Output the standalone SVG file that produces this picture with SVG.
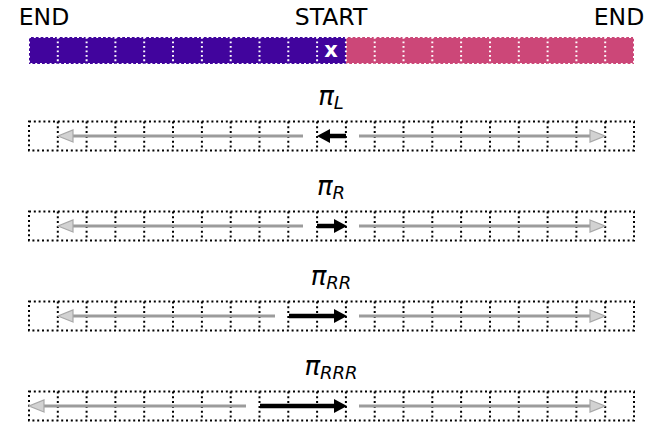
<svg xmlns="http://www.w3.org/2000/svg" width="663" height="440" viewBox="0 0 663 440">
<defs>
<style>
text{font-family:"DejaVu Sans","Liberation Sans",sans-serif;fill:#000}
.lbl{font-size:23.5px}
.pi{font-size:26px;font-style:italic}
.sub{font-size:18px}
.wd{stroke:#fff;stroke-width:2;stroke-dasharray:2 2.8;fill:none}
.bd{stroke:#000;stroke-width:2;stroke-dasharray:2 2.8;fill:none}
.grey{stroke:#9c9c9c;stroke-width:3;fill:none}
.blk{stroke:#000;stroke-width:4.5;fill:none}
</style>
<marker id="bh" viewBox="0 -7 13 14" markerWidth="13" markerHeight="14" refX="0" refY="0" markerUnits="userSpaceOnUse" orient="auto">
<path d="M0,-7 L13,0 L0,7 z" fill="#000"/>
</marker>
<marker id="gh" viewBox="-1 -7 17 14" markerWidth="17" markerHeight="14" refX="0" refY="0" markerUnits="userSpaceOnUse" orient="auto">
<path d="M0,-6 L15,0 L0,6 z" fill="#d2d2d2" stroke="#a8a8a8" stroke-width="1.2"/>
</marker>
<path id="cells" d="M57.8,0v29M86.6,0v29M115.4,0v29M144.2,0v29M173,0v29M201.9,0v29M230.7,0v29M259.5,0v29M288.3,0v29M317.1,0v29M345.9,0v29M374.7,0v29M403.5,0v29M432.3,0v29M461.1,0v29M490,0v29M518.8,0v29M547.6,0v29M576.4,0v29M605.2,0v29"/>
</defs>

<g id="top-bar">
<text class="lbl" x="44" y="25" text-anchor="middle">END</text>
<text class="lbl" x="331" y="25" text-anchor="middle">START</text>
<text class="lbl" x="619" y="25" text-anchor="middle">END</text>
<rect x="29" y="37" width="317" height="27" fill="#41049d"/>
<rect x="346" y="37" width="288" height="27" fill="#cc4778"/>
<use href="#cells" class="wd" transform="translate(0,37) scale(1,0.931)"/>
<rect x="29" y="37" width="605" height="27" class="wd"/>
<text x="331" y="57" text-anchor="middle" style="font-size:21px;font-weight:bold;fill:#fff">x</text>
</g>

<g id="row-piL">
<text class="pi" x="331" y="105" text-anchor="middle">π<tspan class="sub" dy="4">L</tspan></text>
<rect x="29" y="121.5" width="605" height="29" class="bd"/>
<use href="#cells" class="bd" transform="translate(0,121.5)"/>
</g>
<g id="row-piR">
<text class="pi" x="331" y="195" text-anchor="middle">π<tspan class="sub" dy="4">R</tspan></text>
<rect x="29" y="211.5" width="605" height="29" class="bd"/>
<use href="#cells" class="bd" transform="translate(0,211.5)"/>
</g>
<g id="row-piRR">
<text class="pi" x="331" y="285" text-anchor="middle">π<tspan class="sub" dy="4">RR</tspan></text>
<rect x="29" y="301.5" width="605" height="29" class="bd"/>
<use href="#cells" class="bd" transform="translate(0,301.5)"/>
</g>
<g id="row-piRRR">
<text class="pi" x="331" y="375" text-anchor="middle">π<tspan class="sub" dy="4">RRR</tspan></text>
<rect x="29" y="391.5" width="605" height="29" class="bd"/>
<use href="#cells" class="bd" transform="translate(0,391.5)"/>
</g>

<g id="connectors">
<path class="grey" d="M303,136 H73" marker-end="url(#gh)"/>
<path class="blk" d="M346,136 H330" marker-end="url(#bh)"/>
<path class="grey" d="M359,136 H590" marker-end="url(#gh)"/>

<path class="grey" d="M303,226 H73" marker-end="url(#gh)"/>
<path class="blk" d="M317,226 H334" marker-end="url(#bh)"/>
<path class="grey" d="M359,226 H590" marker-end="url(#gh)"/>

<path class="grey" d="M275,316 H73" marker-end="url(#gh)"/>
<path class="blk" d="M289,316 H334" marker-end="url(#bh)"/>
<path class="grey" d="M359,316 H590" marker-end="url(#gh)"/>

<path class="grey" d="M246,406 H44" marker-end="url(#gh)"/>
<path class="blk" d="M260,406 H334" marker-end="url(#bh)"/>
<path class="grey" d="M359,406 H590" marker-end="url(#gh)"/>
</g>
</svg>
